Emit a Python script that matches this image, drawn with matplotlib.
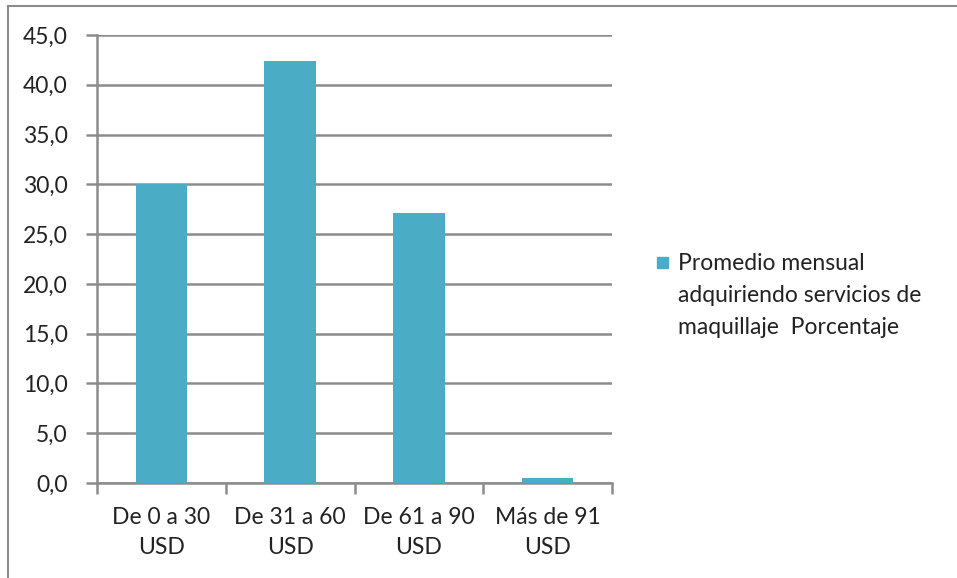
import numpy as np
import matplotlib.pyplot as plt
from matplotlib.patches import Rectangle

categorias = ['De 0 a 30\nUSD', 'De 31 a 60\nUSD', 'De 61 a 90\nUSD', 'Más de 91\nUSD']
porcentaje = [30.0, 42.4, 27.1, 0.5]
serie = 'Promedio mensual\nadquiriendo servicios de\nmaquillaje  Porcentaje'
yticks = np.arange(0, 45.1, 5)

plt.rcParams['font.family'] = ['Lato', 'DejaVu Sans']
FS = 16.5
TXT = '#222222'
GRIS = '#8c8c8c'
AZUL = '#4bacc6'

W, H = 957, 578
fig = plt.figure(figsize=(W / 100, H / 100), dpi=100)
# chart border
fig.patches.append(Rectangle((8 / W, -0.01), 1.0, 1 - 6 / H + 0.01, transform=fig.transFigure,
                             fill=False, edgecolor=GRIS, linewidth=1.5))

ax = fig.add_axes([97 / W, 1 - 483 / H, (612 - 97) / W, (483 - 35) / H])
x = np.arange(len(categorias))
ax.bar(x, porcentaje, width=0.4, color=AZUL, zorder=3)

ax.set_xlim(-0.5, len(categorias) - 0.5)
ax.set_ylim(0, 45)
ax.set_yticks(yticks)
ax.set_yticklabels([f'{v:.1f}'.replace('.', ',') for v in yticks], fontsize=FS, color=TXT)
ax.yaxis.grid(True, color=GRIS, linewidth=1.8, zorder=0)

ax.set_xticks(x)
ax.set_xticklabels(categorias, fontsize=FS, color=TXT, linespacing=1.55)
ax.tick_params(axis='x', length=0, pad=17)
# category separators below the axis
ax.set_xticks(np.arange(-0.5, len(categorias)), minor=True)
ax.tick_params(axis='x', which='minor', length=8, width=1.8, color=GRIS)
ax.tick_params(axis='y', length=8, width=1.8, color=GRIS, pad=13)

for s in ['top', 'right']:
    ax.spines[s].set_visible(False)
for s in ['left', 'bottom']:
    ax.spines[s].set_color(GRIS)
    ax.spines[s].set_linewidth(1.8)

# legend: square next to the first line of the label
fig.patches.append(Rectangle((657 / W, 1 - 268 / H), 11 / W, 11 / H, transform=fig.transFigure,
                             color=AZUL))
fig.text(678 / W, 1 - 253 / H, serie, fontsize=FS, color=TXT, ha='left', va='top',
         linespacing=1.65, transform=fig.transFigure)

fig.savefig('out.png', dpi=100)
